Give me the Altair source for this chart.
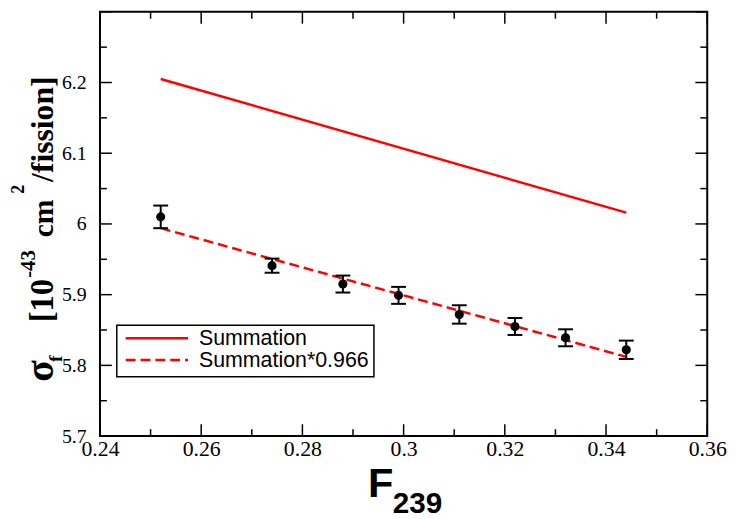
import altair as alt
import pandas as pd

# ---- data ----
f239 = [0.252, 0.274, 0.288, 0.299, 0.311, 0.322, 0.332, 0.344]
sigma = [6.010, 5.941, 5.915, 5.899, 5.872, 5.855, 5.839, 5.822]
err = [0.016, 0.010, 0.012, 0.012, 0.013, 0.012, 0.012, 0.013]

line_x = [0.252, 0.344]
summation_y = [6.205, 6.016]
scaled_y = [5.994, 5.812]
series_names = ["Summation", "Summation*0.966"]

x_major = [0.24, 0.26, 0.28, 0.30, 0.32, 0.34, 0.36]
x_minor = [0.25, 0.27, 0.29, 0.31, 0.33, 0.35]
y_major = [5.7, 5.8, 5.9, 6.0, 6.1, 6.2, 6.3]
y_minor = [5.75, 5.85, 5.95, 6.05, 6.15, 6.25]

W, H = 614, 429
MAJ, MIN = 12, 7
RED = "#ff0000"

pts = pd.DataFrame({"x": f239, "y": sigma,
                    "lo": [s - e for s, e in zip(sigma, err)],
                    "hi": [s + e for s, e in zip(sigma, err)]})
sum_df = pd.DataFrame({"x": line_x, "y": summation_y})
scl_df = pd.DataFrame({"x": line_x, "y": scaled_y})

xs = alt.Scale(domain=[0.24, 0.36], nice=False, zero=False)
ys = alt.Scale(domain=[5.7, 6.3], nice=False, zero=False)

serif = "Liberation Serif"
sans = "Liberation Sans"

xaxis = alt.Axis(values=x_major, title=None, ticks=False, domain=False, grid=False,
                 labelFont=serif, labelFontSize=22, labelColor="black",
                 labelPadding=3, format="~g", labelFlush=False)
yaxis = alt.Axis(values=y_major[:-1], title=None, ticks=False, domain=False, grid=False,
                 labelFont=serif, labelFontSize=20, labelColor="black",
                 labelPadding=14, format="~g", labelFlush=False)

def X(f):
    return alt.X(f, scale=xs, axis=xaxis)

def Y(f):
    return alt.Y(f, scale=ys, axis=yaxis)

solid = alt.Chart(sum_df).mark_line(strokeWidth=2.5, color=RED).encode(x=X("x:Q"), y=Y("y:Q"))
dashed = alt.Chart(scl_df).mark_line(strokeWidth=2.5, color=RED, strokeDash=[10, 5]).encode(
    x=X("x:Q"), y=Y("y:Q"))

bars = alt.Chart(pts).mark_rule(color="black", strokeWidth=2).encode(
    x=X("x:Q"), y=Y("lo:Q"), y2="hi:Q")
cap_lo = alt.Chart(pts).mark_tick(color="black", orient="horizontal", size=15,
                                  thickness=2, opacity=1).encode(x=X("x:Q"), y=Y("lo:Q"))
cap_hi = alt.Chart(pts).mark_tick(color="black", orient="horizontal", size=15,
                                  thickness=2, opacity=1).encode(x=X("x:Q"), y=Y("hi:Q"))
dots = alt.Chart(pts).mark_circle(color="black", size=85, opacity=1).encode(
    x=X("x:Q"), y=Y("y:Q"))

def xticks(vals, length):
    d = pd.DataFrame({"v": vals})
    bot = alt.Chart(d).mark_rule(color="black", strokeWidth=1.5).encode(
        x=X("v:Q"), y=alt.value(H), y2=alt.value(H - length))
    top = alt.Chart(d).mark_rule(color="black", strokeWidth=1.5).encode(
        x=X("v:Q"), y=alt.value(0), y2=alt.value(length))
    return [bot, top]

def yticks(vals, length):
    d = pd.DataFrame({"v": vals})
    left = alt.Chart(d).mark_rule(color="black", strokeWidth=1.5).encode(
        y=Y("v:Q"), x=alt.value(0), x2=alt.value(length))
    right = alt.Chart(d).mark_rule(color="black", strokeWidth=1.5).encode(
        y=Y("v:Q"), x=alt.value(W), x2=alt.value(W - length))
    return [left, right]

tick_layers = xticks(x_major, MAJ) + xticks(x_minor, MIN) + yticks(y_major, MAJ) + yticks(y_minor, MIN)

one = pd.DataFrame({"k": [0]})

def label(text, x, y, size, font, angle=0, weight="bold", baseline="alphabetic"):
    kw = dict(font=font, fontSize=size, fontWeight=weight, color="black",
              align="left", baseline=baseline, text=text)
    if angle:
        kw["angle"] = angle
    return alt.Chart(one).mark_text(**kw).encode(x=alt.value(x), y=alt.value(y))

# legend (drawn by hand)
legend_box = alt.Chart(one).mark_rect(fill="white", stroke="black", strokeWidth=1.5).encode(
    x=alt.value(17), x2=alt.value(277), y=alt.value(317), y2=alt.value(369))
legend_solid = alt.Chart(one).mark_rule(color=RED, strokeWidth=2.5).encode(
    x=alt.value(26), x2=alt.value(89), y=alt.value(330))
legend_dash = alt.Chart(one).mark_rule(color=RED, strokeWidth=2.5, strokeDash=[10, 5]).encode(
    x=alt.value(26), x2=alt.value(89), y=alt.value(352))
legend_t1 = label(series_names[0], 100, 331, 21.6, sans, weight="normal", baseline="middle")
legend_t2 = label(series_names[1], 100, 353, 21.6, sans, weight="normal", baseline="middle")

title_layers = [
    label("F", 271, 491, 42, sans),
    label("239", 296, 507, 30, sans),
    label("σ", -48, 374, 40, serif, 270),
    label("f", -38, 354, 20, serif, 270),
    label("[10", -48, 314, 33, serif, 270),
    label("-43", -66, 269, 21, serif, 270),
    label("cm", -48, 228, 30, serif, 270),
    label("2", -77, 184, 18, serif, 270),
    label("/fission]", -48, 172, 32, serif, 270),
]

chart = alt.layer(
    *tick_layers, solid, dashed, bars, cap_lo, cap_hi, dots,
    legend_box, legend_solid, legend_dash, legend_t1, legend_t2, *title_layers
).properties(
    width=W, height=H,
    autosize=alt.AutoSizeParams(type="none"),
    padding={"left": 93, "top": 1, "right": 22, "bottom": 81},
).configure_view(
    stroke="black", strokeWidth=2
).configure_axis(
    labelFont=serif, labelColor="black"
)

chart.save("out.html", embed_options={"renderer": "svg", "actions": False})
